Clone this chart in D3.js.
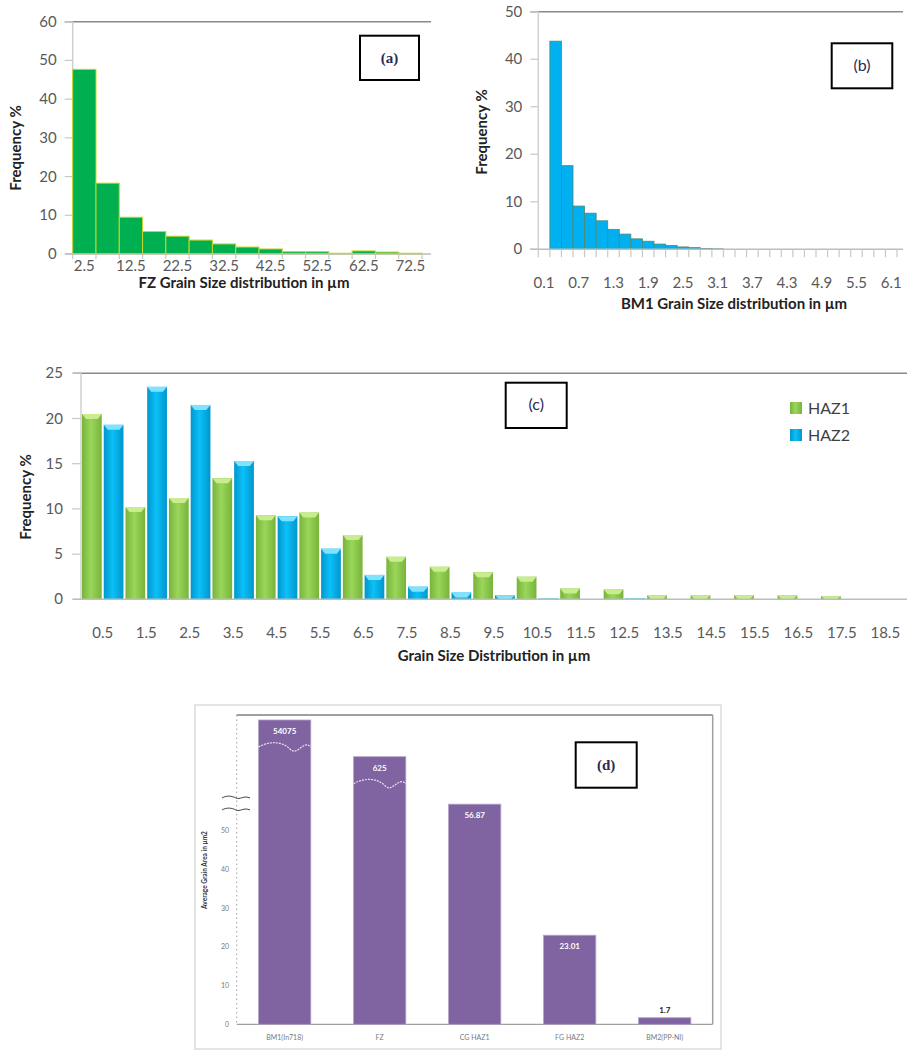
<!DOCTYPE html>
<html>
<head>
<meta charset="utf-8">
<script src="https://cdn.jsdelivr.net/npm/d3@7"></script>
<style>
  body { margin: 0; background: #fff; }
  svg { display: block; }
  text { font-family: Lato, "Open Sans", sans-serif; }
</style>
</head>
<body>
<svg id="fig" width="908" height="1051"></svg>
<script>
// ---- data ----
const fzBins   = ["2.5","7.5","12.5","17.5","22.5","27.5","32.5","37.5","42.5","47.5","52.5","57.5","62.5","67.5","72.5"];
const fzFreq   = [47.7, 18.3, 9.5, 5.8, 4.6, 3.6, 2.6, 1.8, 1.3, 0.6, 0.6, 0.2, 0.8, 0.5, 0.2];

const bm1Bins  = ["0.1","0.3","0.5","0.7","0.9","1.1","1.3","1.5","1.7","1.9","2.1","2.3","2.5","2.7","2.9","3.1",
                  "3.3","3.5","3.7","3.9","4.1","4.3","4.5","4.7","4.9","5.1","5.3","5.5","5.7","5.9","6.1"];
const bm1Freq  = [0, 43.8, 17.6, 9.1, 7.6, 6.0, 4.2, 3.2, 2.2, 1.7, 1.1, 0.8, 0.5, 0.35, 0.15, 0.1,
                  0, 0, 0, 0, 0, 0, 0, 0, 0, 0, 0, 0, 0, 0, 0];

const hazBins  = ["0.5","1.5","2.5","3.5","4.5","5.5","6.5","7.5","8.5","9.5","10.5","11.5","12.5","13.5","14.5","15.5","16.5","17.5","18.5"];
const haz1     = [20.5, 10.2, 11.2, 13.4, 9.3, 9.6, 7.1, 4.7, 3.6, 3.0, 2.5, 1.2, 1.1, 0.45, 0.45, 0.45, 0.45, 0.35, 0];
const haz2     = [19.3, 23.5, 21.5, 15.3, 9.2, 5.6, 2.7, 1.4, 0.75, 0.45, 0.1, 0, 0.1, 0, 0, 0, 0, 0, 0];
const hazSeries = ["HAZ1", "HAZ2"];

const areaCats   = ["BM1(In718)", "FZ", "CG HAZ1", "FG HAZ2", "BM2(PP-NI)"];
const areaVals   = [54075, 625, 56.87, 23.01, 1.7];
const areaLabels = ["54075", "625", "56.87", "23.01", "1.7"];
const areaTicks  = [0, 10, 20, 30, 40, 50];

const svg = d3.select("#fig");
svg.append("rect").attr("width", 908).attr("height", 1051).attr("fill", "#fff");

const tickGray = "#595959";

// gradients for the 3-D look of panel (c)
const defs = svg.append("defs");
function hGrad(id, edge, mid) {
  const g = defs.append("linearGradient").attr("id", id).attr("x1", 0).attr("x2", 1).attr("y1", 0).attr("y2", 0);
  g.append("stop").attr("offset", "0%").attr("stop-color", edge);
  g.append("stop").attr("offset", "45%").attr("stop-color", mid);
  g.append("stop").attr("offset", "100%").attr("stop-color", edge);
}
hGrad("gGreen", "#78b43a", "#9ad65a");
hGrad("gBlue", "#0096cc", "#0cc0f8");

function labelBox(x, y, w, h, txt, serif) {
  svg.append("rect").attr("x", x).attr("y", y).attr("width", w).attr("height", h)
     .attr("fill", "#fff").attr("stroke", "#000").attr("stroke-width", 2);
  svg.append("text").attr("x", x + w / 2).attr("y", y + h / 2 + 5)
     .attr("text-anchor", "middle")
     .style("font-family", serif ? "'Liberation Serif', 'DejaVu Serif', serif" : "Lato, sans-serif")
     .style("font-size", serif ? "15px" : "16px")
     .style("font-weight", serif ? "bold" : "normal")
     .attr("fill", "#2b2b55").text(txt);
}

// generic simple histogram frame (panels a and b)
function histFrame(o) {
  const g = svg.append("g");
  // top border line at max
  g.append("line").attr("x1", o.x0 - 8).attr("x2", o.xEnd)
   .attr("y1", o.y(o.yMax)).attr("y2", o.y(o.yMax)).attr("stroke", "#8a8a8a").attr("stroke-width", 1.5);
  // y axis
  g.append("line").attr("x1", o.x0).attr("x2", o.x0)
   .attr("y1", o.y(0)).attr("y2", o.y(o.yMax)).attr("stroke", "#d0d0d0").attr("stroke-width", 1.5);
  g.selectAll(".yt").data(o.yTicks).join("line")
   .attr("x1", o.x0 - 8).attr("x2", o.x0).attr("y1", d => o.y(d)).attr("y2", d => o.y(d))
   .attr("stroke", "#c8c8c8").attr("stroke-width", 1.2);
  g.selectAll(".yl").data(o.yTicks).join("text")
   .attr("x", o.x0 - 16).attr("y", d => o.y(d) + 5).attr("text-anchor", "end")
   .attr("fill", tickGray).style("font-size", "15px").text(d => d);
  return g;
}

/* ---------------- panel (a) ---------------- */
{
  const x = d3.scaleBand().domain(fzBins).range([72.7, 422]).padding(0);
  const y = d3.scaleLinear().domain([0, 60]).range([254, 21.7]);
  const g = histFrame({ x0: 72.7, xEnd: 431, y, yMax: 60, yTicks: d3.range(0, 61, 10) });

  g.selectAll("rect.bar").data(fzFreq).join("rect").attr("class", "bar")
   .attr("x", (d, i) => x(fzBins[i])).attr("width", x.bandwidth())
   .attr("y", d => y(d)).attr("height", d => y(0) - y(d))
   .attr("fill", "#00b050").attr("stroke", "#c9d52a").attr("stroke-width", 1);

  g.append("line").attr("x1", 65).attr("x2", 431).attr("y1", y(0)).attr("y2", y(0))
   .attr("stroke", "#bdbdbd").attr("stroke-width", 1.5);
  const edges = fzBins.map(b => x(b)).concat([x.range()[1]]);
  g.selectAll(".xt").data(edges).join("line")
   .attr("x1", d => d).attr("x2", d => d).attr("y1", y(0)).attr("y2", y(0) + 5)
   .attr("stroke", "#c8c8c8").attr("stroke-width", 1.2);
  g.selectAll(".xl").data(fzBins.filter((b, i) => i % 2 === 0)).join("text")
   .attr("x", d => x(d) + x.bandwidth() / 2).attr("y", 271).attr("text-anchor", "middle")
   .attr("fill", tickGray).style("font-size", "15px").text(d => d);

  g.append("text").attr("transform", "translate(21,148) rotate(-90)").attr("text-anchor", "middle")
   .style("font-size", "15px").style("font-weight", "bold").attr("fill", "#222").text("Frequency %");
  g.append("text").attr("x", 244).attr("y", 288).attr("text-anchor", "middle")
   .style("font-size", "15px").style("font-weight", "bold").attr("fill", "#222")
   .text("FZ Grain Size distribution in µm");
  labelBox(360, 35.7, 59, 44.3, "(a)", true);
}

/* ---------------- panel (b) ---------------- */
{
  const x = d3.scaleBand().domain(bm1Bins).range([538.3, 897]).padding(0);
  const y = d3.scaleLinear().domain([0, 50]).range([249.3, 11.7]);
  const g = histFrame({ x0: 538.3, xEnd: 903, y, yMax: 50, yTicks: d3.range(0, 51, 10) });

  g.selectAll("rect.bar").data(bm1Freq).join("rect").attr("class", "bar")
   .attr("x", (d, i) => x(bm1Bins[i])).attr("width", x.bandwidth())
   .attr("y", d => y(d)).attr("height", d => y(0) - y(d))
   .attr("fill", "#00b0f0").attr("stroke", "#4f8a70").attr("stroke-width", 0.8)
   .attr("display", d => d > 0 ? null : "none");

  g.append("line").attr("x1", 530).attr("x2", 903).attr("y1", y(0)).attr("y2", y(0))
   .attr("stroke", "#bdbdbd").attr("stroke-width", 1.5);
  const edges = bm1Bins.map(b => x(b)).concat([x.range()[1]]);
  g.selectAll(".xt").data(edges).join("line")
   .attr("x1", d => d).attr("x2", d => d).attr("y1", y(0)).attr("y2", y(0) + 8)
   .attr("stroke", "#c8c8c8").attr("stroke-width", 1.2);
  g.selectAll(".xl").data(bm1Bins.filter((b, i) => i % 3 === 0)).join("text")
   .attr("x", d => x(d) + x.bandwidth() / 2).attr("y", 288).attr("text-anchor", "middle")
   .attr("fill", tickGray).style("font-size", "15px").text(d => d);

  g.append("text").attr("transform", "translate(487,132) rotate(-90)").attr("text-anchor", "middle")
   .style("font-size", "15px").style("font-weight", "bold").attr("fill", "#222").text("Frequency %");
  g.append("text").attr("x", 734).attr("y", 309).attr("text-anchor", "middle")
   .style("font-size", "15px").style("font-weight", "bold").attr("fill", "#222")
   .text("BM1 Grain Size distribution in µm");
  labelBox(831.7, 43.3, 60.6, 45, "(b)", false);
}

/* ---------------- panel (c) ---------------- */
{
  const x = d3.scaleBand().domain(hazBins).range([81, 907]).padding(0);
  const xs = d3.scaleBand().domain(hazSeries).range([0, x.bandwidth()]).padding(0);
  const y = d3.scaleLinear().domain([0, 25]).range([599.3, 373.3]);
  const g = svg.append("g");

  g.append("line").attr("x1", 73).attr("x2", 907).attr("y1", y(25)).attr("y2", y(25))
   .attr("stroke", "#8a8a8a").attr("stroke-width", 1.5);
  g.append("line").attr("x1", 81).attr("x2", 81).attr("y1", y(0)).attr("y2", y(25))
   .attr("stroke", "#d0d0d0").attr("stroke-width", 1.5);
  const yTicks = d3.range(0, 26, 5);
  g.selectAll(".yt").data(yTicks).join("line")
   .attr("x1", 72).attr("x2", 81).attr("y1", d => y(d)).attr("y2", d => y(d))
   .attr("stroke", "#c8c8c8").attr("stroke-width", 1.2);
  g.selectAll(".yl").data(yTicks).join("text")
   .attr("x", 63).attr("y", d => y(d) + 5).attr("text-anchor", "end")
   .attr("fill", tickGray).style("font-size", "15px").text(d => d);

  const rows = hazBins.flatMap((b, i) => [
    { bin: b, s: "HAZ1", v: haz1[i] },
    { bin: b, s: "HAZ2", v: haz2[i] }
  ]).filter(d => d.v > 0);

  const bars = g.selectAll("g.bar").data(rows).join("g").attr("class", "bar");
  bars.append("rect")
   .attr("x", d => x(d.bin) + xs(d.s) + 1).attr("width", xs.bandwidth() - 2)
   .attr("y", d => y(d.v)).attr("height", d => y(0) - y(d.v))
   .attr("fill", d => d.s === "HAZ1" ? "url(#gGreen)" : "url(#gBlue)");
  // bevel highlight on top of each bar
  bars.append("path")
   .attr("d", d => {
     const x0 = x(d.bin) + xs(d.s) + 1, w = xs.bandwidth() - 2, t = y(d.v);
     const h = Math.min(5, (y(0) - t));
     return `M${x0},${t}L${x0 + w},${t}L${x0 + w - 4},${t + h}L${x0 + 4},${t + h}Z`;
   })
   .attr("fill", d => d.s === "HAZ1" ? "#c8ec8e" : "#7fe3ff");

  g.append("line").attr("x1", 73).attr("x2", 907).attr("y1", y(0)).attr("y2", y(0))
   .attr("stroke", "#bdbdbd").attr("stroke-width", 1.5);
  g.selectAll(".xl").data(hazBins).join("text")
   .attr("x", d => x(d) + x.bandwidth() / 2).attr("y", 638).attr("text-anchor", "middle")
   .attr("fill", tickGray).style("font-size", "15px").text(d => d);

  g.append("text").attr("transform", "translate(31,497) rotate(-90)").attr("text-anchor", "middle")
   .style("font-size", "15px").style("font-weight", "bold").attr("fill", "#222").text("Frequency %");
  g.append("text").attr("x", 494).attr("y", 661).attr("text-anchor", "middle")
   .style("font-size", "15px").style("font-weight", "bold").attr("fill", "#222")
   .text("Grain Size Distribution in µm");

  const leg = g.selectAll(".leg").data(hazSeries).join("g")
   .attr("transform", (d, i) => `translate(790,${402 + i * 27})`);
  leg.append("rect").attr("width", 12).attr("height", 12)
   .attr("fill", (d, i) => i === 0 ? "url(#gGreen)" : "url(#gBlue)");
  leg.append("text").attr("x", 18).attr("y", 12).style("font-size", "16px").attr("fill", "#404040").text(d => d);

  labelBox(505.7, 382.7, 61, 45.3, "(c)", false);
}

/* ---------------- panel (d) ---------------- */
{
  const L = 236.7, R = 712.7, T = 715, B = 1024.3;
  svg.append("rect").attr("x", 195).attr("y", 705).attr("width", 526).attr("height", 344)
   .attr("fill", "#fff").attr("stroke", "#dcdcdc").attr("stroke-width", 1.5);

  const x = d3.scaleBand().domain(areaCats).range([L, R]).paddingInner(0.45).paddingOuter(0.23);
  // broken axis: piecewise linear scale, linear up to the break
  const y = d3.scaleLinear().domain([0, 58, 625, 54075]).range([B, 799.8, 756.7, 720]);
  const g = svg.append("g");

  g.append("line").attr("x1", L).attr("x2", R).attr("y1", T).attr("y2", T).attr("stroke", "#808080").attr("stroke-width", 1.5);
  g.append("line").attr("x1", R).attr("x2", R).attr("y1", T).attr("y2", B).attr("stroke", "#a0a0a0").attr("stroke-width", 1.5);
  g.append("line").attr("x1", L).attr("x2", L).attr("y1", T).attr("y2", B)
   .attr("stroke", "#a0a0a0").attr("stroke-width", 1).attr("stroke-dasharray", "1.5,3");
  g.append("line").attr("x1", L).attr("x2", R).attr("y1", B).attr("y2", B).attr("stroke", "#a0a0a0").attr("stroke-width", 1.2);

  g.selectAll(".yl").data(areaTicks).join("text")
   .attr("x", 229).attr("y", d => y(d) + 2.5).attr("text-anchor", "end")
   .attr("fill", "#7a7a7a").style("font-size", "7px").text(d => d);

  // axis break marks
  [798, 810].forEach(yy => {
    g.append("path")
     .attr("d", `M222,${yy}C227,${yy - 3} 232,${yy - 2} 236,${yy}C240,${yy + 2} 244,${yy - 3} 250,${yy}`)
     .attr("fill", "none").attr("stroke", "#444").attr("stroke-width", 1);
  });

  const bars = g.selectAll("g.bar").data(areaVals).join("g").attr("class", "bar");
  bars.append("rect")
   .attr("x", (d, i) => x(areaCats[i])).attr("width", x.bandwidth())
   .attr("y", d => y(d)).attr("height", d => B - y(d))
   .attr("fill", "#8064a2").attr("stroke", "#b3a2c7").attr("stroke-width", 0.8);

  // wavy white break lines across the broken bars
  areaVals.forEach((v, i) => {
    if (v < 100) return;
    const x0 = x(areaCats[i]), w = x.bandwidth(), yy = y(v) + 27;
    g.append("path")
     .attr("d", `M${x0},${yy}C${x0 + w * 0.2},${yy - 6} ${x0 + w * 0.45},${yy - 6} ${x0 + w * 0.6},${yy + 2}` +
                `S${x0 + w * 0.85},${yy - 8} ${x0 + w},${yy}`)
     .attr("fill", "none").attr("stroke", "#e8e0f0").attr("stroke-width", 1.2).attr("stroke-dasharray", "2,1");
  });

  bars.append("text")
   .attr("x", (d, i) => x(areaCats[i]) + x.bandwidth() / 2)
   .attr("y", d => d < 5 ? y(d) - 5 : y(d) + 14)
   .attr("text-anchor", "middle").style("font-size", "8px").style("font-weight", "bold")
   .attr("fill", d => d < 5 ? "#222" : "#fff")
   .text((d, i) => areaLabels[i]);

  g.selectAll(".xl").data(areaCats).join("text")
   .attr("x", d => x(d) + x.bandwidth() / 2).attr("y", 1040).attr("text-anchor", "middle")
   .attr("fill", "#7a7a7a").style("font-size", "7px").text(d => d);

  g.append("text").attr("transform", "translate(207,870) rotate(-90)").attr("text-anchor", "middle")
   .style("font-size", "6.5px").style("font-weight", "bold").attr("fill", "#333").text("Average Grain Area in µm2");

  labelBox(575.7, 742.3, 61, 45.4, "(d)", true);
}
</script>
</body>
</html>
